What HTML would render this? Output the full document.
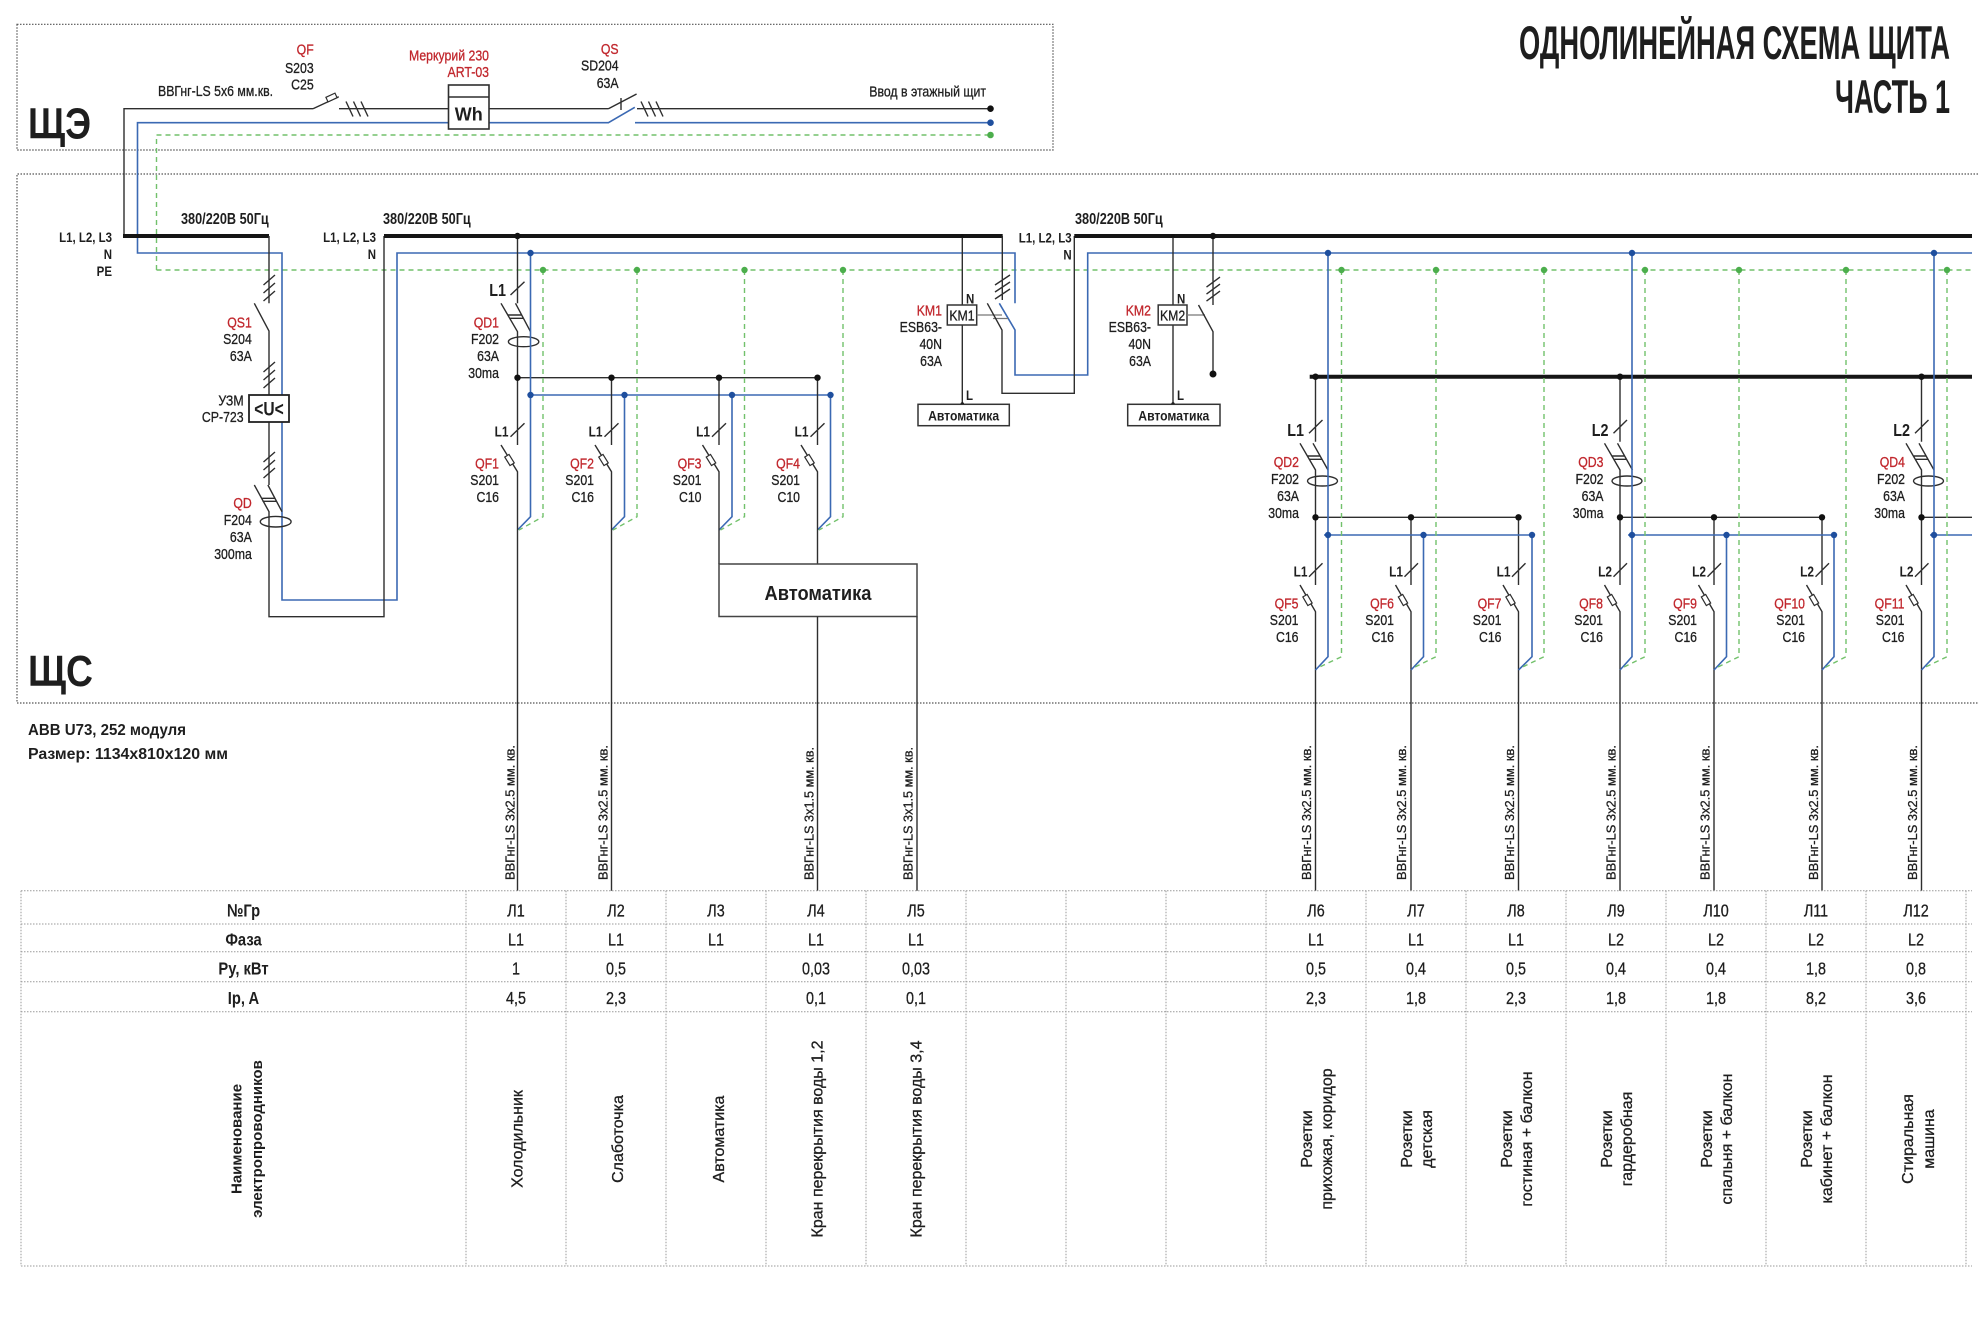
<!DOCTYPE html>
<html><head><meta charset="utf-8">
<style>
html,body{margin:0;padding:0;background:#fff;}
svg{display:block;font-family:"Liberation Sans",Arial,sans-serif;font-size:15px}
text{fill:#1e1e1e;stroke:#1e1e1e;stroke-width:.3}
.r{fill:#c1272d;stroke:#c1272d}
.b text,text.b{stroke-width:0}
.e{text-anchor:end}
.m{text-anchor:middle}
.b{font-weight:bold}
.k{stroke:#2e2e2e;stroke-width:1.4;fill:none}
.kr{stroke:#2e2e2e;stroke-width:1.2;fill:#fff}
.u{stroke:#3b69b3;stroke-width:1.6;fill:none}
.g{stroke:#72c16b;stroke-width:1.4;stroke-dasharray:5 4;fill:none}
.bus{stroke:#151515;stroke-width:4;fill:none}
.dt{stroke:#555;stroke-width:1.2;stroke-dasharray:1.5 1.5;fill:none}
.tb{stroke:#9a9a9a;stroke-width:1;stroke-dasharray:1.5 1.5;fill:none}
.gr{stroke:#777;stroke-width:1.3;fill:none}
.bd{fill:#111}
.ud{fill:#1f4f9e}
.gd{fill:#4cae4c}
</style></head><body>
<svg width="1980" height="1336" viewBox="0 0 1980 1336" xmlns="http://www.w3.org/2000/svg">

<!-- frames -->
<rect class="dt" x="17" y="24.3" width="1036" height="125.7"/>
<path class="dt" d="M1978,174H17V703H1978"/>

<!-- title -->
<text class="b" x="1519" y="59" font-size="47" textLength="431" lengthAdjust="spacingAndGlyphs">ОДНОЛИНЕЙНАЯ СХЕМА ЩИТА</text>
<text class="b" x="1835" y="113" font-size="47" textLength="115" lengthAdjust="spacingAndGlyphs">ЧАСТЬ 1</text>

<text class="b" x="28" y="138.5" font-size="44" textLength="63" lengthAdjust="spacingAndGlyphs">ЩЭ</text>
<text class="b" x="28" y="686" font-size="44" textLength="65" lengthAdjust="spacingAndGlyphs">ЩС</text>

<!-- ЩЭ lines -->
<path class="g" d="M156.5,270V135H990.5"/>
<path class="g" d="M156.5,270H1972"/>
<path class="k" d="M124,236V108.7H313M313,108.7L338.8,96.7M339,108.7H608.4M608.4,108.7L636.6,94M637,108.7H990.5M621,98V110"/>
<rect class="kr" x="-5" y="-2.5" width="10" height="5" transform="translate(331.5,97.5) rotate(-25)"/>
<path class="k" d="M346,101.5L353,116.5M353.5,101.5L360.5,116.5M361,101.5L368,116.5M641,101.5L648,116.5M648.5,101.5L655.5,116.5M656,101.5L663,116.5"/>
<path class="u" d="M990.5,122.7H635M634.8,107.3L608.4,122.7H137.5V253H282V600H397V253H1015V303.3M999.3,303.3L1015,330V375H1087.7V253H1972"/>
<rect x="448.5" y="85" width="40.5" height="44" fill="#fff" stroke="#2e2e2e" stroke-width="1.6"/>
<path class="k" d="M448.5,97H489"/>
<text class="b m" x="468.8" y="120.5" font-size="18">Wh</text>
<circle cx="990.5" cy="108.7" r="3.3" class="bd"/>
<circle cx="990.5" cy="122.7" r="3.3" class="ud"/>
<circle cx="990.5" cy="135" r="3.3" class="gd"/>

<g transform="translate(158,0) scale(.82,1)"><text y="96">ВВГнг-LS 5x6 мм.кв.</text></g>
<g class="e" transform="translate(313.7,0) scale(.82,1)"><text class="r" y="54.5">QF</text><text y="73">S203</text><text y="89.5">C25</text></g>
<g class="e" transform="translate(489,0) scale(.82,1)"><text class="r" y="60.5">Меркурий 230</text><text class="r" y="77">ART-03</text></g>
<g class="e" transform="translate(618.6,0) scale(.82,1)"><text class="r" y="54">QS</text><text y="70.5">SD204</text><text y="88">63A</text></g>
<g class="e" transform="translate(986,0) scale(.82,1)"><text y="96.5">Ввод в этажный щит</text></g>

<!-- bus 1 -->
<path class="bus" d="M123,236H269"/>
<g class="e b" font-size="14" transform="translate(112,0) scale(.82,1)"><text y="242">L1, L2, L3</text><text y="259">N</text><text y="276">PE</text></g>
<g class="b" font-size="15.5" transform="translate(181,0) scale(.82,1)"><text y="224">380/220В 50Гц</text></g>

<path class="k" d="M269,236V303.3M254.3,303.3L269,331V395M269,422V485M254.3,485L269,511.7V616.7H384V236M267.9,485L282,511.7M261.6,498.3H274.9M262.5,501.3H276.5"/>
<path class="k" d="M263.5,285L275,275M263.5,293L275,283M263.5,301L275,291M263.5,372L275,362M263.5,380L275,370M263.5,388L275,378M263.5,462L275,452M263.5,470L275,460M263.5,478L275,468"/>
<ellipse class="k" cx="275.7" cy="521.7" rx="15.4" ry="5.3"/>
<rect x="249" y="395" width="40" height="27" fill="#fff" stroke="#222" stroke-width="1.8"/>
<g class="b m" font-size="19" transform="translate(269,0) scale(.82,1)"><text y="415.5">&lt;U&lt;</text></g>
<g class="e" transform="translate(251.8,0) scale(.82,1)"><text class="r" y="327.5">QS1</text><text y="344">S204</text><text y="361">63A</text><text class="r" y="508">QD</text><text y="525">F204</text><text y="542">63A</text><text y="559">300ma</text></g>
<g class="e" transform="translate(243.6,0) scale(.82,1)"><text y="405.5">УЗМ</text><text y="422">СР-723</text></g>

<!-- bus 2 -->
<path class="bus" d="M384,236H1002.7"/>
<g class="e b" font-size="14" transform="translate(376,0) scale(.82,1)"><text y="242">L1, L2, L3</text><text y="259">N</text></g>
<g class="b" font-size="15.5" transform="translate(383,0) scale(.82,1)"><text y="224">380/220В 50Гц</text></g>

<!-- QD1 -->
<path class="k" d="M517.5,236V303.3M501,303.3L517.5,331.7V377.7M515.5,303.3L530.5,331.7M507.8,315H521.7M509.7,318.3H523.4M510.5,295L524.5,281.7"/>
<ellipse class="k" cx="523.6" cy="341.7" rx="15.2" ry="5"/>
<g class="e b" font-size="17.5" transform="translate(506,0) scale(.82,1)"><text y="296">L1</text></g>
<g class="e" transform="translate(499,0) scale(.82,1)"><text class="r" y="327.5">QD1</text><text y="344">F202</text><text y="361">63A</text><text y="378">30ma</text></g>
<path class="k" d="M517.5,377.7H817.5"/>
<path class="u" d="M530.5,253V516.7L517.5,530M530.5,395H830.5M624.5,395V516.7L611.5,530M732,395V516.7L719,530M830.5,395V516.7L817.5,530"/>
<path class="g" d="M543,270V516.7L519,530M637,270V516.7L613,530M744.5,270V516.7L720.5,530M843,270V516.7L819,530"/>
<path class="k" d="M517.5,377.7V445M501,445L517.5,471.7V890.7M611.5,377.7V445M595,445L611.5,471.7V890.7M719,377.7V445M702.5,445L719,471.7V564M817.5,377.7V445M801,445L817.5,471.7V564M510.5,436.7L524.5,423.3M604.5,436.7L618.5,423.3M712,436.7L726,423.3M810.5,436.7L824.5,423.3"/>
<rect class="kr" x="-2.5" y="-5" width="5" height="10" transform="translate(509.5,460) rotate(-31.7)"/>
<rect class="kr" x="-2.5" y="-5" width="5" height="10" transform="translate(603.5,460) rotate(-31.7)"/>
<rect class="kr" x="-2.5" y="-5" width="5" height="10" transform="translate(711,460) rotate(-31.7)"/>
<rect class="kr" x="-2.5" y="-5" width="5" height="10" transform="translate(809.5,460) rotate(-31.7)"/>
<g class="e b" font-size="14.5">
<g transform="translate(508.5,0) scale(.82,1)"><text y="436.5">L1</text></g>
<g transform="translate(602.5,0) scale(.82,1)"><text y="436.5">L1</text></g>
<g transform="translate(710,0) scale(.82,1)"><text y="436.5">L1</text></g>
<g transform="translate(808.5,0) scale(.82,1)"><text y="436.5">L1</text></g>
</g>
<g class="e" transform="translate(499,0) scale(.82,1)"><text class="r" y="468.5">QF1</text><text y="485">S201</text><text y="502">C16</text></g>
<g class="e" transform="translate(594,0) scale(.82,1)"><text class="r" y="468.5">QF2</text><text y="485">S201</text><text y="502">C16</text></g>
<g class="e" transform="translate(701.5,0) scale(.82,1)"><text class="r" y="468.5">QF3</text><text y="485">S201</text><text y="502">C10</text></g>
<g class="e" transform="translate(800,0) scale(.82,1)"><text class="r" y="468.5">QF4</text><text y="485">S201</text><text y="502">C10</text></g>
<circle cx="517.5" cy="236" r="3.2" class="bd"/>
<circle cx="517.5" cy="377.7" r="3.2" class="bd"/><circle cx="611.5" cy="377.7" r="3.2" class="bd"/><circle cx="719" cy="377.7" r="3.2" class="bd"/><circle cx="817.5" cy="377.7" r="3.2" class="bd"/>
<circle cx="530.5" cy="253" r="3.2" class="ud"/>
<circle cx="530.5" cy="395" r="3.2" class="ud"/><circle cx="624.5" cy="395" r="3.2" class="ud"/><circle cx="732" cy="395" r="3.2" class="ud"/><circle cx="830.5" cy="395" r="3.2" class="ud"/>
<circle cx="543" cy="270" r="3.2" class="gd"/><circle cx="637" cy="270" r="3.2" class="gd"/><circle cx="744.5" cy="270" r="3.2" class="gd"/><circle cx="843" cy="270" r="3.2" class="gd"/>

<!-- big automation box -->
<rect x="719" y="564" width="198" height="52.5" fill="#fff" stroke="#444" stroke-width="1.5"/>
<text class="b m" x="818" y="600" font-size="20" textLength="107" lengthAdjust="spacingAndGlyphs">Автоматика</text>
<path class="k" d="M817.5,616.5V890.7M917,616.5V890.7"/>

<!-- KM1 -->
<path class="k" d="M962.3,236V404.3"/>
<circle cx="962.3" cy="236" r="1.8" class="bd"/><circle cx="962.3" cy="404" r="1.8" class="bd"/>
<rect x="947.3" y="305" width="29.4" height="20" fill="#fff" stroke="#333" stroke-width="1.5"/>
<g class="m" transform="translate(962,0) scale(.82,1)"><text y="320.5">KM1</text></g>
<g class="b" font-size="14" transform="translate(966,0) scale(.82,1)"><text y="303.5">N</text><text y="400">L</text></g>
<g class="e" transform="translate(942,0) scale(.82,1)"><text class="r" y="315.5">KM1</text><text y="332">ESB63-</text><text y="349">40N</text><text y="366">63A</text></g>
<rect x="918" y="404.3" width="91.3" height="21.4" fill="#fff" stroke="#333" stroke-width="1.5"/>
<text class="b m" x="963.6" y="420.5" font-size="13.5" textLength="71" lengthAdjust="spacingAndGlyphs">Автоматика</text>
<path class="gr" d="M976.7,315H1002M993,318.5H1008"/>
<path class="k" d="M1002.3,236V300M987.3,303.3L1002,330V393.3H1074.3V236M995,285L1010,275M995,292L1010,282M995,299L1010,289"/>

<!-- bus 3 -->
<path class="bus" d="M1074.3,236H1972"/>
<g class="e b" font-size="14" transform="translate(1071.7,0) scale(.82,1)"><text y="242.7">L1, L2, L3</text><text y="259.3">N</text></g>
<g class="b" font-size="15.5" transform="translate(1075,0) scale(.82,1)"><text y="224">380/220В 50Гц</text></g>

<!-- KM2 -->
<path class="k" d="M1173,236V404.3"/>
<circle cx="1173" cy="236" r="1.8" class="bd"/><circle cx="1173" cy="404" r="1.8" class="bd"/>
<rect x="1158.2" y="305" width="28.8" height="20" fill="#fff" stroke="#333" stroke-width="1.5"/>
<g class="m" transform="translate(1172.6,0) scale(.82,1)"><text y="320.5">KM2</text></g>
<g class="b" font-size="14" transform="translate(1177,0) scale(.82,1)"><text y="303.5">N</text><text y="400">L</text></g>
<g class="e" transform="translate(1151,0) scale(.82,1)"><text class="r" y="315.5">KM2</text><text y="332">ESB63-</text><text y="349">40N</text><text y="366">63A</text></g>
<rect x="1127.7" y="404.3" width="92.3" height="21.4" fill="#fff" stroke="#333" stroke-width="1.5"/>
<text class="b m" x="1173.8" y="420.5" font-size="13.5" textLength="71" lengthAdjust="spacingAndGlyphs">Автоматика</text>
<path class="gr" d="M1187,315H1205"/>
<path class="k" d="M1213,236V305M1198.5,305L1213,331.7V374M1206.5,287L1220,277M1206.5,294L1220,284M1206.5,301L1220,291"/>
<circle cx="1213" cy="236" r="3.2" class="bd"/><circle cx="1213" cy="374" r="3.5" class="bd"/>

<!-- sub-bus -->
<path class="bus" d="M1309.7,376.7H1972"/>

<!-- right groups -->
<path class="k" d="M1315.5,376.7V441.7M1300,443.3L1315.5,470V517.3M1313,443.3L1328,470M1307.4,456H1320.1M1309.3,459.3H1322M1309,433.3L1322.5,420
M1620,376.7V441.7M1604.5,443.3L1620,470V517.3M1617.5,443.3L1632.5,470M1611.9,456H1624.6M1613.8,459.3H1626.5M1613.5,433.3L1627,420
M1921.5,376.7V441.7M1906,443.3L1921.5,470V517.3M1919,443.3L1934,470M1913.4,456H1926.1M1915.3,459.3H1928M1915,433.3L1928.5,420
M1315.5,517.3H1518.5M1620,517.3H1822M1921.5,517.3H1972
M1315.5,517.3V585M1300,585L1315.5,611.7V890.7M1309,576.7L1322.5,563.3
M1411,517.3V585M1395.5,585L1411,611.7V890.7M1404.5,576.7L1418,563.3
M1518.5,517.3V585M1503,585L1518.5,611.7V890.7M1512,576.7L1525.5,563.3
M1620,517.3V585M1604.5,585L1620,611.7V890.7M1613.5,576.7L1627,563.3
M1714,517.3V585M1698.5,585L1714,611.7V890.7M1707.5,576.7L1721,563.3
M1822,517.3V585M1806.5,585L1822,611.7V890.7M1815.5,576.7L1829,563.3
M1921.5,517.3V585M1906,585L1921.5,611.7V890.7M1915,576.7L1928.5,563.3"/>
<ellipse class="k" cx="1322.5" cy="481" rx="15" ry="5"/>
<ellipse class="k" cx="1627" cy="481" rx="15" ry="5"/>
<ellipse class="k" cx="1928.5" cy="481" rx="15" ry="5"/>
<path class="u" d="M1328,253V656.7L1315.5,670M1632,253V656.7L1620,670M1934,253V656.7L1921.5,670M1324,535H1532M1628,535H1834M1930,535H1972M1423.5,535V656.7L1411,670M1532,535V656.7L1518.5,670M1726.5,535V656.7L1714,670M1834,535V656.7L1822,670"/>
<path class="g" d="M1341.5,270V656.7L1317.5,668M1436,270V656.7L1413,668M1544,270V656.7L1520.5,668M1645,270V656.7L1622,668M1739,270V656.7L1716,668M1846,270V656.7L1824,668M1947,270V656.7L1923.5,668"/>
<rect class="kr" x="-2.5" y="-5" width="5" height="10" transform="translate(1307.5,600) rotate(-30)"/>
<rect class="kr" x="-2.5" y="-5" width="5" height="10" transform="translate(1403,600) rotate(-30)"/>
<rect class="kr" x="-2.5" y="-5" width="5" height="10" transform="translate(1510.5,600) rotate(-30)"/>
<rect class="kr" x="-2.5" y="-5" width="5" height="10" transform="translate(1612,600) rotate(-30)"/>
<rect class="kr" x="-2.5" y="-5" width="5" height="10" transform="translate(1706,600) rotate(-30)"/>
<rect class="kr" x="-2.5" y="-5" width="5" height="10" transform="translate(1814,600) rotate(-30)"/>
<rect class="kr" x="-2.5" y="-5" width="5" height="10" transform="translate(1913.5,600) rotate(-30)"/>

<circle cx="1315.5" cy="376.7" r="3.2" class="bd"/><circle cx="1620" cy="376.7" r="3.2" class="bd"/><circle cx="1921.5" cy="376.7" r="3.2" class="bd"/>
<circle cx="1315.5" cy="517.3" r="3.2" class="bd"/><circle cx="1411" cy="517.3" r="3.2" class="bd"/><circle cx="1518.5" cy="517.3" r="3.2" class="bd"/><circle cx="1620" cy="517.3" r="3.2" class="bd"/><circle cx="1714" cy="517.3" r="3.2" class="bd"/><circle cx="1822" cy="517.3" r="3.2" class="bd"/><circle cx="1921.5" cy="517.3" r="3.2" class="bd"/>
<circle cx="1328" cy="253" r="3.2" class="ud"/><circle cx="1632" cy="253" r="3.2" class="ud"/><circle cx="1934" cy="253" r="3.2" class="ud"/>
<circle cx="1328" cy="535" r="3.2" class="ud"/><circle cx="1423.5" cy="535" r="3.2" class="ud"/><circle cx="1532" cy="535" r="3.2" class="ud"/><circle cx="1632" cy="535" r="3.2" class="ud"/><circle cx="1726.5" cy="535" r="3.2" class="ud"/><circle cx="1834" cy="535" r="3.2" class="ud"/><circle cx="1934" cy="535" r="3.2" class="ud"/>
<circle cx="1341.5" cy="270" r="3.2" class="gd"/><circle cx="1436" cy="270" r="3.2" class="gd"/><circle cx="1544" cy="270" r="3.2" class="gd"/><circle cx="1645" cy="270" r="3.2" class="gd"/><circle cx="1739" cy="270" r="3.2" class="gd"/><circle cx="1846" cy="270" r="3.2" class="gd"/><circle cx="1947" cy="270" r="3.2" class="gd"/>

<g class="e b" font-size="17.5">
<g transform="translate(1304,0) scale(.82,1)"><text y="436">L1</text></g>
<g transform="translate(1608.5,0) scale(.82,1)"><text y="436">L2</text></g>
<g transform="translate(1910,0) scale(.82,1)"><text y="436">L2</text></g>
</g>
<g class="e" transform="translate(1299,0) scale(.82,1)"><text class="r" y="467">QD2</text><text y="484">F202</text><text y="501">63A</text><text y="518">30ma</text></g>
<g class="e" transform="translate(1603.5,0) scale(.82,1)"><text class="r" y="467">QD3</text><text y="484">F202</text><text y="501">63A</text><text y="518">30ma</text></g>
<g class="e" transform="translate(1905,0) scale(.82,1)"><text class="r" y="467">QD4</text><text y="484">F202</text><text y="501">63A</text><text y="518">30ma</text></g>

<g class="e b" font-size="14.5">
<g transform="translate(1307.5,0) scale(.82,1)"><text y="576.5">L1</text></g>
<g transform="translate(1403,0) scale(.82,1)"><text y="576.5">L1</text></g>
<g transform="translate(1510.5,0) scale(.82,1)"><text y="576.5">L1</text></g>
<g transform="translate(1612,0) scale(.82,1)"><text y="576.5">L2</text></g>
<g transform="translate(1706,0) scale(.82,1)"><text y="576.5">L2</text></g>
<g transform="translate(1814,0) scale(.82,1)"><text y="576.5">L2</text></g>
<g transform="translate(1913.5,0) scale(.82,1)"><text y="576.5">L2</text></g>
</g>
<g class="e" transform="translate(1298.5,0) scale(.82,1)"><text class="r" y="608.5">QF5</text><text y="625">S201</text><text y="642">C16</text></g>
<g class="e" transform="translate(1394,0) scale(.82,1)"><text class="r" y="608.5">QF6</text><text y="625">S201</text><text y="642">C16</text></g>
<g class="e" transform="translate(1501.5,0) scale(.82,1)"><text class="r" y="608.5">QF7</text><text y="625">S201</text><text y="642">C16</text></g>
<g class="e" transform="translate(1603,0) scale(.82,1)"><text class="r" y="608.5">QF8</text><text y="625">S201</text><text y="642">C16</text></g>
<g class="e" transform="translate(1697,0) scale(.82,1)"><text class="r" y="608.5">QF9</text><text y="625">S201</text><text y="642">C16</text></g>
<g class="e" transform="translate(1805,0) scale(.82,1)"><text class="r" y="608.5">QF10</text><text y="625">S201</text><text y="642">C16</text></g>
<g class="e" transform="translate(1904.5,0) scale(.82,1)"><text class="r" y="608.5">QF11</text><text y="625">S201</text><text y="642">C16</text></g>

<!-- info -->
<text class="b" x="28" y="735" font-size="16" textLength="158" lengthAdjust="spacingAndGlyphs">ABB U73, 252 модуля</text>
<text class="b" x="28" y="759" font-size="16" textLength="200" lengthAdjust="spacingAndGlyphs">Размер: 1134x810x120 мм</text>

<!-- cable labels -->
<g font-size="12.8">
<text transform="translate(514.5,880) rotate(-90)" textLength="135" lengthAdjust="spacingAndGlyphs">ВВГнг-LS 3x2.5 мм. кв.</text>
<text transform="translate(607.5,880) rotate(-90)" textLength="135" lengthAdjust="spacingAndGlyphs">ВВГнг-LS 3x2.5 мм. кв.</text>
<text transform="translate(813.5,880) rotate(-90)" textLength="133" lengthAdjust="spacingAndGlyphs">ВВГнг-LS 3x1.5 мм. кв.</text>
<text transform="translate(912.5,880) rotate(-90)" textLength="133" lengthAdjust="spacingAndGlyphs">ВВГнг-LS 3x1.5 мм. кв.</text>
<text transform="translate(1311,880) rotate(-90)" textLength="135" lengthAdjust="spacingAndGlyphs">ВВГнг-LS 3x2.5 мм. кв.</text>
<text transform="translate(1406,880) rotate(-90)" textLength="135" lengthAdjust="spacingAndGlyphs">ВВГнг-LS 3x2.5 мм. кв.</text>
<text transform="translate(1514,880) rotate(-90)" textLength="135" lengthAdjust="spacingAndGlyphs">ВВГнг-LS 3x2.5 мм. кв.</text>
<text transform="translate(1615.5,880) rotate(-90)" textLength="135" lengthAdjust="spacingAndGlyphs">ВВГнг-LS 3x2.5 мм. кв.</text>
<text transform="translate(1709.5,880) rotate(-90)" textLength="135" lengthAdjust="spacingAndGlyphs">ВВГнг-LS 3x2.5 мм. кв.</text>
<text transform="translate(1818,880) rotate(-90)" textLength="135" lengthAdjust="spacingAndGlyphs">ВВГнг-LS 3x2.5 мм. кв.</text>
<text transform="translate(1917,880) rotate(-90)" textLength="135" lengthAdjust="spacingAndGlyphs">ВВГнг-LS 3x2.5 мм. кв.</text>
</g>

<!-- table -->
<path class="tb" d="M21,890.7H1972M21,924H1972M21,951.7H1972M21,981.7H1972M21,1011.7H1972M21,1266H1972"/>
<path class="tb" d="M21,890.7V1266M466,890.7V1266M566,890.7V1266M666,890.7V1266M766,890.7V1266M866,890.7V1266M966,890.7V1266M1066,890.7V1266M1166,890.7V1266M1266,890.7V1266M1366,890.7V1266M1466,890.7V1266M1566,890.7V1266M1666,890.7V1266M1766,890.7V1266M1866,890.7V1266M1966,890.7V1266"/>

<g class="b m" font-size="18" transform="translate(243.5,0) scale(.82,1)"><text y="916.5">№Гр</text><text y="945.4">Фаза</text><text y="974.7">Ру, кВт</text><text y="1004">Ip, A</text></g>

<g class="m" font-size="17.5">
<g transform="translate(516,0) scale(.82,1)"><text y="916.5">Л1</text><text y="945.4">L1</text><text y="974.7">1</text><text y="1004">4,5</text></g>
<g transform="translate(616,0) scale(.82,1)"><text y="916.5">Л2</text><text y="945.4">L1</text><text y="974.7">0,5</text><text y="1004">2,3</text></g>
<g transform="translate(716,0) scale(.82,1)"><text y="916.5">Л3</text><text y="945.4">L1</text></g>
<g transform="translate(816,0) scale(.82,1)"><text y="916.5">Л4</text><text y="945.4">L1</text><text y="974.7">0,03</text><text y="1004">0,1</text></g>
<g transform="translate(916,0) scale(.82,1)"><text y="916.5">Л5</text><text y="945.4">L1</text><text y="974.7">0,03</text><text y="1004">0,1</text></g>
<g transform="translate(1316,0) scale(.82,1)"><text y="916.5">Л6</text><text y="945.4">L1</text><text y="974.7">0,5</text><text y="1004">2,3</text></g>
<g transform="translate(1416,0) scale(.82,1)"><text y="916.5">Л7</text><text y="945.4">L1</text><text y="974.7">0,4</text><text y="1004">1,8</text></g>
<g transform="translate(1516,0) scale(.82,1)"><text y="916.5">Л8</text><text y="945.4">L1</text><text y="974.7">0,5</text><text y="1004">2,3</text></g>
<g transform="translate(1616,0) scale(.82,1)"><text y="916.5">Л9</text><text y="945.4">L2</text><text y="974.7">0,4</text><text y="1004">1,8</text></g>
<g transform="translate(1716,0) scale(.82,1)"><text y="916.5">Л10</text><text y="945.4">L2</text><text y="974.7">0,4</text><text y="1004">1,8</text></g>
<g transform="translate(1816,0) scale(.82,1)"><text y="916.5">Л11</text><text y="945.4">L2</text><text y="974.7">1,8</text><text y="1004">8,2</text></g>
<g transform="translate(1916,0) scale(.82,1)"><text y="916.5">Л12</text><text y="945.4">L2</text><text y="974.7">0,8</text><text y="1004">3,6</text></g>
</g>

<g class="b m" font-size="15">
<text transform="translate(241.5,1139) rotate(-90)">Наименование</text>
<text transform="translate(262,1139) rotate(-90)">электропроводников</text>
</g>
<g class="m" font-size="16">
<text transform="translate(522.5,1139) rotate(-90)">Холодильник</text>
<text transform="translate(623,1139) rotate(-90)">Слаботочка</text>
<text transform="translate(724,1139) rotate(-90)">Автоматика</text>
<text transform="translate(822.5,1139) rotate(-90)">Кран перекрытия воды 1,2</text>
<text transform="translate(921.5,1139) rotate(-90)">Кран перекрытия воды 3,4</text>
<text transform="translate(1312,1139) rotate(-90)">Розетки</text>
<text transform="translate(1332,1139) rotate(-90)">прихожая,  коридор</text>
<text transform="translate(1412,1139) rotate(-90)">Розетки</text>
<text transform="translate(1432,1139) rotate(-90)">детская</text>
<text transform="translate(1512,1139) rotate(-90)">Розетки</text>
<text transform="translate(1532,1139) rotate(-90)">гостиная + балкон</text>
<text transform="translate(1612,1139) rotate(-90)">Розетки</text>
<text transform="translate(1632,1139) rotate(-90)">гардеробная</text>
<text transform="translate(1712,1139) rotate(-90)">Розетки</text>
<text transform="translate(1732,1139) rotate(-90)">спальня + балкон</text>
<text transform="translate(1812,1139) rotate(-90)">Розетки</text>
<text transform="translate(1832,1139) rotate(-90)">кабинет + балкон</text>
<text transform="translate(1913,1139) rotate(-90)">Стиральная</text>
<text transform="translate(1934,1139) rotate(-90)">машина</text>
</g>

</svg>
</body></html>
